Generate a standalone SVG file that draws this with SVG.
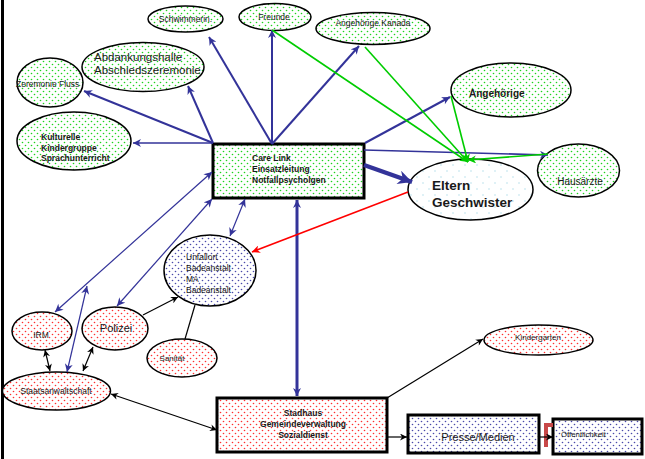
<svg xmlns="http://www.w3.org/2000/svg" width="645" height="459" viewBox="0 0 645 459">
<style>
text{font-family:"Liberation Sans",Arial,sans-serif;fill:#1a1a1a}
.b{font-weight:bold}
.n{stroke:#000;stroke-width:1.5}
.box{stroke:#000;stroke-width:3}
.cb{stroke:#333399;fill:none}
.cg{stroke:#00cc00;fill:none;stroke-width:1.6}
.ck{stroke:#000;fill:none;stroke-width:1.2}
.cr{stroke:#ff0000;fill:none;stroke-width:1.6}
</style>
<defs>
<pattern id="pg" width="6" height="6" patternUnits="userSpaceOnUse"><rect width="6" height="6" fill="#fff"/><circle cx="1.5" cy="1.5" r="0.8" fill="#1ed41e"/><circle cx="4.5" cy="4.5" r="0.8" fill="#1ed41e"/></pattern>
<pattern id="pr" width="6" height="6" patternUnits="userSpaceOnUse"><rect width="6" height="6" fill="#fff"/><circle cx="1.5" cy="1.5" r="0.8" fill="#ff3030"/><circle cx="4.5" cy="4.5" r="0.8" fill="#ff3030"/></pattern>
<pattern id="pb" width="6" height="6" patternUnits="userSpaceOnUse"><rect width="6" height="6" fill="#fff"/><circle cx="1.5" cy="1.5" r="0.8" fill="#4a4aaa"/><circle cx="4.5" cy="4.5" r="0.8" fill="#4a4aaa"/></pattern>
<pattern id="pc" width="12" height="12" patternUnits="userSpaceOnUse"><rect width="12" height="12" fill="#fff"/><circle cx="3" cy="3" r="0.8" fill="#b8e0ec"/><circle cx="9" cy="9" r="0.8" fill="#b8e0ec"/></pattern>
<marker id="ab" viewBox="0 0 10 10" refX="10" refY="5" markerWidth="9" markerHeight="8" markerUnits="userSpaceOnUse" orient="auto-start-reverse"><path d="M0,0 L10,5 L0,10 L3,5 z" fill="#333399"/></marker>
<marker id="abL" viewBox="0 0 10 10" refX="10" refY="5" markerWidth="16" markerHeight="14" markerUnits="userSpaceOnUse" orient="auto-start-reverse"><path d="M0,0 L10,5 L0,10 L3,5 z" fill="#333399"/></marker>
<marker id="ag" viewBox="0 0 10 10" refX="10" refY="5" markerWidth="9" markerHeight="8" markerUnits="userSpaceOnUse" orient="auto-start-reverse"><path d="M0,0 L10,5 L0,10 L3,5 z" fill="#00cc00"/></marker>
<marker id="ak" viewBox="0 0 10 10" refX="10" refY="5" markerWidth="8" markerHeight="7" markerUnits="userSpaceOnUse" orient="auto-start-reverse"><path d="M0,0 L10,5 L0,10 L3,5 z" fill="#000"/></marker>
<marker id="ar" viewBox="0 0 10 10" refX="10" refY="5" markerWidth="9" markerHeight="8" markerUnits="userSpaceOnUse" orient="auto-start-reverse"><path d="M0,0 L10,5 L0,10 L3,5 z" fill="#ff0000"/></marker>
</defs>
<rect width="645" height="459" fill="#fff"/>
<line x1="2.5" y1="0" x2="2.5" y2="459" stroke="#000" stroke-width="3"/>

<g id="schwimmerin"><ellipse class="n" cx="185.5" cy="19" rx="37.5" ry="13" fill="url(#pg)"/><text x="185.5" y="22" font-size="8.5" text-anchor="middle">Schwimmerin.</text></g>
<g id="freunde"><ellipse class="n" cx="275" cy="17" rx="36" ry="13.5" fill="url(#pg)"/><text x="274" y="20" font-size="8.5" text-anchor="middle">Freunde</text></g>
<g id="kanada"><ellipse class="n" cx="373" cy="28.5" rx="57" ry="16" fill="url(#pg)"/><text x="373" y="26" font-size="8.5" text-anchor="middle">Angehörige Kanada</text></g>
<g id="abdankung"><ellipse class="n" cx="143" cy="67" rx="61" ry="24.5" fill="url(#pg)"/><text x="94" y="61" font-size="11.5">Abdankungshalle</text><text x="94" y="74" font-size="11.5">Abschiedszeremonie</text></g>
<g id="zeremonie"><ellipse class="n" cx="50" cy="82.5" rx="33" ry="24.5" fill="url(#pg)"/><text x="16" y="87" font-size="8.5">Zeremonie Fluss</text></g>
<g id="kulturelle"><ellipse class="n" cx="74" cy="141" rx="57" ry="29" fill="url(#pg)"/><text class="b" x="41" y="140" font-size="8.5">Kulturelle</text><text class="b" x="41" y="150.5" font-size="8.5">Kindergruppe</text><text class="b" x="41" y="161" font-size="8.5">Sprachunterricht</text></g>
<g id="carelink"><rect class="box" x="213" y="144" width="151" height="54" fill="url(#pg)"/><text class="b" x="252" y="161" font-size="8.5">Care Link</text><text class="b" x="252" y="172" font-size="8.5">Einsatzleitung</text><text class="b" x="252" y="183" font-size="8.5">Notfallpsycholgen</text></g>
<g id="eltern"><ellipse class="n" cx="470.5" cy="189.5" rx="62.5" ry="30.5" fill="url(#pc)"/><text class="b" x="432" y="190" font-size="13.5">Eltern</text><text class="b" x="432" y="207" font-size="13.5">Geschwister</text></g>
<g id="angehoerige"><ellipse class="n" cx="511" cy="90" rx="60" ry="27" fill="url(#pg)"/><text class="b" x="469" y="97" font-size="10">Angehörige</text></g>
<g id="hausaerzte"><ellipse class="n" cx="578.5" cy="170.5" rx="41" ry="26.5" fill="url(#pg)"/><text x="580" y="185" font-size="10" text-anchor="middle">Hausärzte</text></g>
<g id="unfallort"><ellipse class="n" cx="210" cy="270.5" rx="46" ry="35.5" fill="url(#pb)"/><text x="186" y="260" font-size="8.5">Unfallort</text><text x="186" y="271" font-size="8.5">Badeanstalt</text><text x="186" y="282" font-size="8.5">MA</text><text x="186" y="293" font-size="8.5">Badeanstalt</text></g>
<g id="irm"><ellipse class="n" cx="42" cy="331" rx="30" ry="19" fill="url(#pr)"/><text x="41" y="338" font-size="8.5" text-anchor="middle">IRM</text></g>
<g id="polizei"><ellipse class="n" cx="115" cy="328.5" rx="33" ry="21.5" fill="url(#pr)"/><text x="116" y="332" font-size="11" text-anchor="middle">Polizei</text></g>
<g id="sanitaet"><ellipse class="n" cx="182" cy="358" rx="35" ry="19" fill="url(#pr)"/><text x="172" y="361" font-size="8" text-anchor="middle">Sanität</text></g>
<g id="staatsanwaltschaft"><ellipse class="n" cx="56.5" cy="391" rx="54" ry="19" fill="url(#pr)"/><text x="56" y="394" font-size="8.5" text-anchor="middle">Staatsanwaltschaft</text></g>
<g id="stadhaus"><rect class="box" x="217" y="398" width="170" height="54" fill="url(#pr)"/><text class="b" x="303" y="416" font-size="8.5" text-anchor="middle">Stadhaus</text><text class="b" x="303" y="427" font-size="8.5" text-anchor="middle">Gemeindeverwaltung</text><text class="b" x="303" y="437.5" font-size="8.5" text-anchor="middle">Sozialdienst</text></g>
<g id="presse"><rect class="box" x="408" y="415" width="131" height="38" fill="url(#pb)"/><text x="478" y="441" font-size="11" text-anchor="middle">Presse/Medien</text></g>
<g id="oeffentlichkeit"><rect class="box" x="553" y="419" width="89" height="35" fill="url(#pb)"/><text x="561" y="437" font-size="7.8">Öffentlichkeit</text></g>
<g id="kindergarten"><ellipse class="n" cx="538.5" cy="340" rx="54.5" ry="15" fill="url(#pr)"/><text x="538" y="340" font-size="8" text-anchor="middle">Kindergarten</text></g>

<g id="connectors">
<line class="cb" stroke-width="2" x1="272" y1="144" x2="209" y2="37" marker-end="url(#ab)"/>
<line class="cb" stroke-width="2" x1="272" y1="144" x2="272" y2="30" marker-end="url(#ab)"/>
<line class="cb" stroke-width="2" x1="272" y1="144" x2="359" y2="46" marker-end="url(#ab)"/>
<line class="cb" stroke-width="2" x1="213" y1="143" x2="188" y2="86" marker-end="url(#ab)"/>
<line class="cb" stroke-width="2" x1="213" y1="143" x2="84" y2="91" marker-end="url(#ab)"/>
<line class="cb" stroke-width="1.6" x1="213" y1="143" x2="133" y2="143" marker-end="url(#ab)"/>
<line class="cb" stroke-width="2" x1="365" y1="143" x2="450" y2="97" marker-end="url(#ab)"/>
<line class="cb" stroke-width="1.6" x1="364" y1="150" x2="548" y2="155" marker-end="url(#ab)"/>
<line class="cb" stroke-width="4.5" x1="364" y1="165" x2="412" y2="182" marker-end="url(#abL)"/>
<line class="cg" x1="272" y1="30" x2="468" y2="162" marker-end="url(#ag)"/>
<line class="cg" x1="365" y1="47" x2="468" y2="162" marker-end="url(#ag)"/>
<line class="cg" x1="451" y1="96" x2="468" y2="162" marker-end="url(#ag)"/>
<line class="cg" x1="548" y1="154" x2="468" y2="160" marker-end="url(#ag)"/>
<line class="cb" stroke-width="1.2" x1="212" y1="172" x2="55" y2="312" marker-start="url(#ab)" marker-end="url(#ab)"/>
<line class="cb" stroke-width="1.2" x1="67" y1="372" x2="87" y2="286" marker-start="url(#ab)" marker-end="url(#ab)"/>
<line class="cb" stroke-width="1.2" x1="212" y1="199" x2="117" y2="306" marker-start="url(#ab)" marker-end="url(#ab)"/>
<line class="cb" stroke-width="1.2" x1="245" y1="199" x2="230" y2="236" marker-start="url(#ab)" marker-end="url(#ab)"/>
<line class="cb" stroke-width="3" x1="297" y1="200" x2="297" y2="396" marker-start="url(#ab)" marker-end="url(#ab)"/>
<line class="cr" x1="408" y1="192" x2="252" y2="252" marker-end="url(#ar)"/>
<line class="ck" x1="143" y1="315" x2="178" y2="297" marker-end="url(#ak)"/>
<line class="ck" x1="185" y1="339" x2="195" y2="305"/>
<line class="ck" x1="45" y1="350" x2="50" y2="371" marker-start="url(#ak)" marker-end="url(#ak)"/>
<line class="ck" x1="93" y1="347" x2="83" y2="371" marker-start="url(#ak)" marker-end="url(#ak)"/>
<line class="ck" x1="111" y1="394" x2="217" y2="430" marker-start="url(#ak)" marker-end="url(#ak)"/>
<line class="ck" x1="387" y1="398" x2="483" y2="339" marker-end="url(#ak)"/>
<line class="ck" x1="388" y1="437" x2="407" y2="437" marker-end="url(#ak)"/>
<path d="M553,425 H546 V447" fill="none" stroke="#c84848" stroke-width="4"/>
<line class="ck" x1="540" y1="437" x2="553" y2="437" marker-end="url(#ak)"/>
</g>
</svg>
